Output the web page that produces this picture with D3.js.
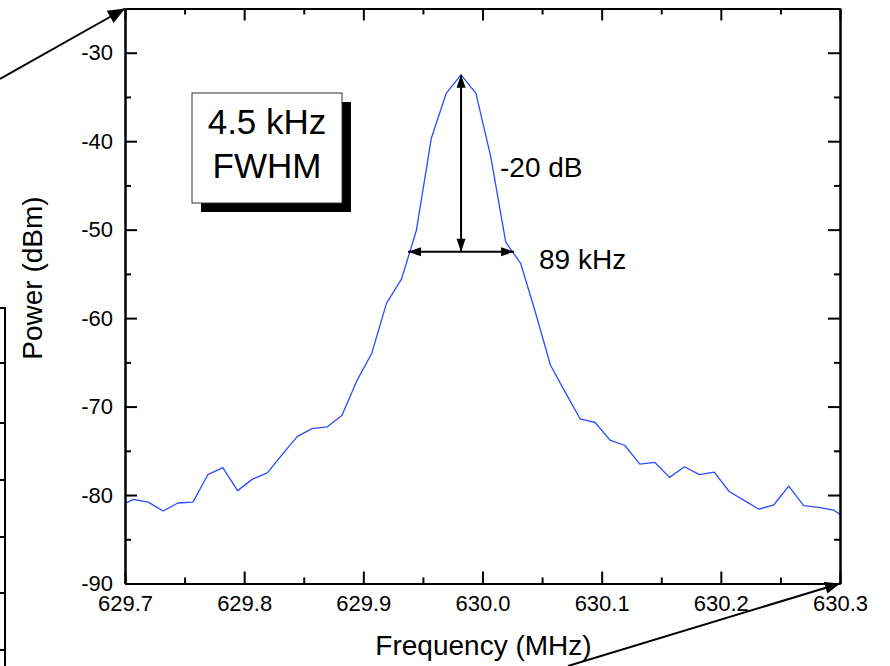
<!DOCTYPE html>
<html>
<head>
<meta charset="utf-8">
<script src="https://cdn.jsdelivr.net/npm/d3@7"></script>
<style>
  html, body { margin: 0; padding: 0; background: #fff; }
  svg { display: block; font-family: "Liberation Sans", Arial, Helvetica, sans-serif; }
</style>
</head>
<body>
<svg id="chart" width="890" height="666"></svg>
<script>
// Spectrum analyser trace: frequency (MHz) and power (dBm)
const freqs = [
  629.6945, 629.7070, 629.7195, 629.7320, 629.7445, 629.7570, 629.7695, 629.7820,
  629.7945, 629.8070, 629.8195, 629.8320, 629.8445, 629.8570, 629.8695, 629.8820,
  629.8945, 629.9070, 629.9195, 629.9320, 629.9445, 629.9570, 629.9695, 629.9820,
  629.9945, 630.0070, 630.0195, 630.0320, 630.0445, 630.0570, 630.0695, 630.0820,
  630.0945, 630.1070, 630.1195, 630.1320, 630.1445, 630.1570, 630.1695, 630.1820,
  630.1945, 630.2070, 630.2195, 630.2320, 630.2445, 630.2570, 630.2695, 630.2820,
  630.2945, 630.3070
];
const powers = [
  -81.3, -80.5, -80.8, -81.8, -80.9, -80.8, -77.7, -76.9,
  -79.5, -78.2, -77.5, -75.4, -73.4, -72.5, -72.3, -71.0,
  -67.1, -64.0, -58.3, -55.6, -50.1, -39.7, -34.6, -32.5,
  -34.6, -41.8, -51.4, -53.8, -59.4, -65.3, -68.4, -71.4,
  -71.8, -73.8, -74.4, -76.5, -76.3, -78.0, -76.8, -77.7,
  -77.4, -79.6, -80.6, -81.6, -81.1, -79.0, -81.2, -81.4,
  -81.7, -82.8
];

// Axis ticks
const xMajorTicks = [629.7, 629.8, 629.9, 630.0, 630.1, 630.2, 630.3];
const xTickLabels = ["629.7", "629.8", "629.9", "630.0", "630.1", "630.2", "630.3"];
const xMinorTicks = [629.75, 629.85, 629.95, 630.05, 630.15, 630.25];
const yMajorTicks = [-90, -80, -70, -60, -50, -40, -30];
const yTickLabels = ["-90", "-80", "-70", "-60", "-50", "-40", "-30"];
const yMinorTicks = [-85, -75, -65, -55, -45, -35];

// Linewidth annotation
const peakFreq = 629.982;      // MHz
const peakPower = -32.5;       // dBm
const dropDb = 20;             // dB below peak
const widthAtDrop = 0.089;     // MHz (89 kHz)
const boxLines = ["4.5 kHz", "FWHM"];
const dropLabel = "-20 dB";
const widthLabel = "89 kHz";

const svg = d3.select("#chart");
const x = d3.scaleLinear().domain([629.7, 630.3]).range([125, 840]);
const y = d3.scaleLinear().domain([-90, -25]).range([583.5, 8.5]);

const FONT_TICK = 22, FONT_LABEL = 28;

// --- helpers -------------------------------------------------------------
function arrowHead(g, x1, y1, x2, y2, len, half) {
  const a = Math.atan2(y2 - y1, x2 - x1);
  const bx = x2 - len * Math.cos(a), by = y2 - len * Math.sin(a);
  const nx = -Math.sin(a) * half, ny = Math.cos(a) * half;
  g.append("path")
    .attr("d", `M${x2},${y2}L${bx + nx},${by + ny}L${bx - nx},${by - ny}Z`)
    .attr("fill", "#000");
}
function arrow(g, x1, y1, x2, y2, opts) {
  const o = Object.assign({ width: 2, len: 13, half: 4.5, start: false, end: true }, opts || {});
  g.append("line")
    .attr("x1", x1).attr("y1", y1).attr("x2", x2).attr("y2", y2)
    .attr("stroke", "#000").attr("stroke-width", o.width);
  if (o.end) arrowHead(g, x1, y1, x2, y2, o.len, o.half);
  if (o.start) arrowHead(g, x2, y2, x1, y1, o.len, o.half);
}
function styleAxis(g) {
  g.select(".domain").attr("stroke", "#000").attr("stroke-width", 2);
  g.selectAll(".tick line").attr("stroke", "#000").attr("stroke-width", 2);
  g.selectAll(".tick text")
    .attr("fill", "#000")
    .attr("font-size", FONT_TICK)
    .attr("font-family", "Liberation Sans, Arial, sans-serif");
}

// --- fragment of a neighbouring panel at the left edge -------------------
const frag = svg.append("g");
frag.append("path").attr("d", "M0,308H5V666").attr("fill", "none")
  .attr("stroke", "#000").attr("stroke-width", 2);
[363, 423, 480, 537, 593, 650].forEach(t =>
  frag.append("line").attr("x1", 0).attr("x2", 4).attr("y1", t).attr("y2", t)
    .attr("stroke", "#000").attr("stroke-width", 2));

// --- trace -----------------------------------------------------------------
svg.append("clipPath").attr("id", "plotClip").append("rect")
  .attr("x", x(629.7)).attr("y", y(-25))
  .attr("width", x(630.3) - x(629.7)).attr("height", y(-90) - y(-25));

const line = d3.line().x((d, i) => x(freqs[i])).y(d => y(d));
svg.append("path")
  .datum(powers)
  .attr("clip-path", "url(#plotClip)")
  .attr("d", line)
  .attr("fill", "none")
  .attr("stroke", "#2a4dff")
  .attr("stroke-width", 1.3)
  .attr("stroke-linejoin", "round");

// --- axes (ticks pointing inward on all four sides) -----------------------
const xFmt = d => xTickLabels[xMajorTicks.findIndex(v => Math.abs(v - d) < 1e-9)];
const yFmt = d => yTickLabels[yMajorTicks.indexOf(d)];

const gB = svg.append("g").attr("transform", `translate(0,${y(-90)})`)
  .call(d3.axisBottom(x).tickValues(xMajorTicks).tickFormat(xFmt)
    .tickSizeInner(-12).tickSizeOuter(0).tickPadding(12));
styleAxis(gB);
const gBm = svg.append("g").attr("transform", `translate(0,${y(-90)})`)
  .call(d3.axisBottom(x).tickValues(xMinorTicks).tickFormat("").tickSizeInner(-6).tickSizeOuter(0));
styleAxis(gBm);

const gT = svg.append("g").attr("transform", `translate(0,${y(-25)})`)
  .call(d3.axisTop(x).tickValues(xMajorTicks).tickFormat("").tickSizeInner(-12).tickSizeOuter(0));
styleAxis(gT);
const gTm = svg.append("g").attr("transform", `translate(0,${y(-25)})`)
  .call(d3.axisTop(x).tickValues(xMinorTicks).tickFormat("").tickSizeInner(-6).tickSizeOuter(0));
styleAxis(gTm);

const gL = svg.append("g").attr("transform", `translate(${x(629.7)},0)`)
  .call(d3.axisLeft(y).tickValues(yMajorTicks).tickFormat(yFmt)
    .tickSizeInner(-12).tickSizeOuter(0).tickPadding(12));
styleAxis(gL);
const gLm = svg.append("g").attr("transform", `translate(${x(629.7)},0)`)
  .call(d3.axisLeft(y).tickValues(yMinorTicks).tickFormat("").tickSizeInner(-6).tickSizeOuter(0));
styleAxis(gLm);

const gR = svg.append("g").attr("transform", `translate(${x(630.3)},0)`)
  .call(d3.axisRight(y).tickValues(yMajorTicks).tickFormat("").tickSizeInner(-12).tickSizeOuter(0));
styleAxis(gR);
const gRm = svg.append("g").attr("transform", `translate(${x(630.3)},0)`)
  .call(d3.axisRight(y).tickValues(yMinorTicks).tickFormat("").tickSizeInner(-6).tickSizeOuter(0));
styleAxis(gRm);

// Axis titles
svg.append("text")
  .attr("x", (x(629.7) + x(630.3)) / 2 + 1).attr("y", 655)
  .attr("text-anchor", "middle").attr("font-size", FONT_LABEL).attr("fill", "#000")
  .text("Frequency (MHz)");
svg.append("text")
  .attr("transform", `translate(42,${(y(-90) + y(-25)) / 2 - 18}) rotate(-90)`)
  .attr("text-anchor", "middle").attr("font-size", FONT_LABEL).attr("fill", "#000")
  .text("Power (dBm)");

// --- corner arrows linking to the neighbouring panels ---------------------
const deco = svg.append("g");
arrow(deco, 0, 79, x(629.7), y(-25), { len: 17, half: 7 });
arrow(deco, 568, 666, x(630.3), y(-90), { len: 15, half: 6 });

// --- linewidth box with drop shadow ---------------------------------------
const box = { x: 192, y: 93, w: 150, h: 110, off: 9 };
svg.append("rect").attr("x", box.x + box.off).attr("y", box.y + box.off)
  .attr("width", box.w).attr("height", box.h).attr("fill", "#000");
svg.append("rect").attr("x", box.x).attr("y", box.y)
  .attr("width", box.w).attr("height", box.h)
  .attr("fill", "#fff").attr("stroke", "#333").attr("stroke-width", 1);
boxLines.forEach((t, i) =>
  svg.append("text")
    .attr("x", box.x + box.w / 2).attr("y", 134 + i * 44)
    .attr("text-anchor", "middle").attr("font-size", 35).attr("fill", "#000")
    .text(t));

// --- -20 dB / 89 kHz annotation arrows -----------------------------------
const ann = svg.append("g");
const yDrop = y(peakPower - dropDb);
arrow(ann, x(peakFreq), y(peakPower), x(peakFreq), yDrop, { start: true, end: true });
arrow(ann, x(peakFreq - widthAtDrop / 2), yDrop, x(peakFreq + widthAtDrop / 2), yDrop,
  { start: true, end: true });

svg.append("text").attr("x", 500).attr("y", 177)
  .attr("font-size", FONT_LABEL).attr("fill", "#000").text(dropLabel);
svg.append("text").attr("x", 539).attr("y", 269)
  .attr("font-size", FONT_LABEL).attr("fill", "#000").text(widthLabel);
</script>
</body>
</html>
